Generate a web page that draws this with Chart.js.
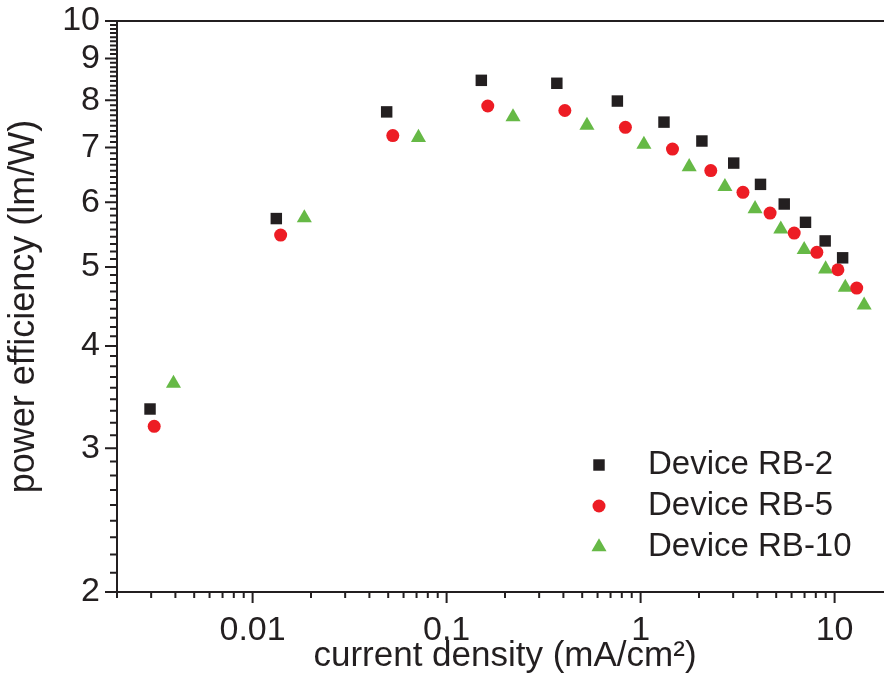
<!DOCTYPE html>
<html>
<head>
<meta charset="utf-8">
<script src="https://cdn.jsdelivr.net/npm/chart.js@4.4.1/dist/chart.umd.min.js"></script>
<style>
  html, body { margin: 0; padding: 0; background: #fff; overflow: hidden; }
  canvas { display: block; }
</style>
</head>
<body>
<canvas id="chart" width="893" height="689"></canvas>
<script>
const seriesNames = ['Device RB-2', 'Device RB-5', 'Device RB-10'];

const rb2X = [0.00296, 0.01325, 0.0491, 0.151, 0.370, 0.759, 1.32, 2.07, 3.02, 4.15, 5.50, 7.08, 8.94, 11.0];
const rb2Y = [3.35, 5.73, 7.74, 8.46, 8.39, 7.98, 7.52, 7.13, 6.70, 6.31, 5.97, 5.67, 5.38, 5.13];

const rb5X = [0.00311, 0.01395, 0.0528, 0.163, 0.407, 0.835, 1.46, 2.30, 3.37, 4.65, 6.19, 8.10, 10.4, 13.0];
const rb5Y = [3.19, 5.47, 7.24, 7.87, 7.77, 7.41, 6.97, 6.56, 6.17, 5.82, 5.50, 5.21, 4.96, 4.71];

const rb10X = [0.00391, 0.01848, 0.0716, 0.220, 0.529, 1.04, 1.78, 2.72, 3.89, 5.28, 6.97, 8.99, 11.35, 14.2];
const rb10Y = [3.60, 5.74, 7.20, 7.63, 7.45, 7.06, 6.63, 6.27, 5.89, 5.56, 5.25, 4.97, 4.72, 4.49];

const xTickValues = [0.01, 0.1, 1, 10];
const xTickLabels = ['0.01', '0.1', '1', '10'];
const yTickValues = [2, 3, 4, 5, 6, 7, 8, 9, 10];
const yTickLabels = ['2', '3', '4', '5', '6', '7', '8', '9', '10'];

const ink = '#231f20';
const FONT = "'Liberation Sans', Arial, Helvetica, sans-serif";

function points(xs, ys) {
  return xs.map((x, i) => ({ x: x, y: ys[i] }));
}

// tick marks (major + minor) and the top frame line
const axisTicks = {
  id: 'axisTicks',
  afterDraw(chart) {
    const { ctx, chartArea: a } = chart;
    const x = chart.scales.x, y = chart.scales.y;
    ctx.save();
    ctx.strokeStyle = ink;
    ctx.lineWidth = 2;
    ctx.beginPath();
    ctx.moveTo(a.left - 1, a.top);
    ctx.lineTo(a.right, a.top);

    yTickValues.forEach(v => {
      const p = y.getPixelForValue(v);
      ctx.moveTo(a.left - 12, p);
      ctx.lineTo(a.left, p);
    });
    for (let n = 2; n < 10; n++) {
      for (let k = 1; k < 9; k++) {
        const p = y.getPixelForValue(n + k / 9);
        ctx.moveTo(a.left - 7, p);
        ctx.lineTo(a.left, p);
      }
    }

    xTickValues.forEach(v => {
      const p = x.getPixelForValue(v);
      ctx.moveTo(p, a.bottom);
      ctx.lineTo(p, a.bottom + 11);
    });
    for (let d = 0.001; d < 100; d *= 10) {
      for (let m = 2; m < 10; m++) {
        const v = d * m;
        if (v < x.min * 0.999 || v > x.max) continue;
        const p = x.getPixelForValue(v);
        ctx.moveTo(p, a.bottom);
        ctx.lineTo(p, a.bottom + 6);
      }
    }
    ctx.stroke();
    ctx.restore();
  }
};

// legend in the lower right of the plot
const cornerLegend = {
  id: 'cornerLegend',
  afterDatasetsDraw(chart) {
    const { ctx, chartArea: a } = chart;
    ctx.save();
    ctx.font = '33px ' + FONT;
    ctx.textBaseline = 'middle';
    ctx.textAlign = 'left';
    chart.data.datasets.forEach((ds, i) => {
      const cy = a.bottom - 127 + i * 41;
      const cx = a.right - 294;
      ctx.fillStyle = ds.backgroundColor;
      Chart.helpers.drawPoint(ctx, {
        pointStyle: ds.pointStyle, radius: ds.pointRadius, rotation: 0, borderWidth: 0
      }, cx, cy);
      ctx.fillStyle = ink;
      ctx.fillText(ds.label, cx + 49, cy);
    });
    ctx.restore();
  }
};

new Chart(document.getElementById('chart'), {
  type: 'scatter',
  data: {
    datasets: [
      { label: seriesNames[0], data: points(rb2X, rb2Y), pointStyle: 'rect', pointRadius: 8.1,
        backgroundColor: ink, borderWidth: 0 },
      { label: seriesNames[1], data: points(rb5X, rb5Y), pointStyle: 'circle', pointRadius: 6.5,
        backgroundColor: '#ed1c24', borderWidth: 0 },
      { label: seriesNames[2], data: points(rb10X, rb10Y), pointStyle: 'triangle', pointRadius: 8.7,
        backgroundColor: '#66b946', borderWidth: 0 }
    ]
  },
  options: {
    responsive: false,
    animation: false,
    devicePixelRatio: 1,
    layout: { autoPadding: false, padding: { top: 21, right: 0, left: 0, bottom: 0 } },
    elements: { point: { hoverRadius: 8, borderWidth: 0 } },
    plugins: { legend: { display: false }, tooltip: { enabled: false } },
    scales: {
      x: {
        type: 'logarithmic',
        min: 0.002,
        max: 20,
        afterFit: s => { s.height = 97; },
        afterBuildTicks: s => { s.ticks = xTickValues.map(v => ({ value: v })); },
        grid: { display: false, drawTicks: false },
        border: { display: true, color: ink, width: 2 },
        ticks: {
          color: ink, font: { family: FONT, size: 34 }, padding: 18,
          maxRotation: 0, autoSkip: false,
          callback: v => xTickLabels[xTickValues.indexOf(v)]
        },
        title: {
          display: true, text: 'current density (mA/cm²)', color: ink,
          font: { family: FONT, size: 35 }, padding: { top: 0, bottom: 12 }
        }
      },
      y: {
        type: 'logarithmic',
        min: 2,
        max: 10,
        afterFit: s => { s.width = 117; },
        afterBuildTicks: s => { s.ticks = yTickValues.map(v => ({ value: v })); },
        // label gap comes from tickLength; the marks themselves are drawn by axisTicks
        grid: { display: false, drawTicks: true, tickLength: 17 },
        border: { display: true, color: ink, width: 2 },
        ticks: {
          color: ink, font: { family: FONT, size: 34 }, padding: 0,
          autoSkip: false,
          callback: v => yTickLabels[yTickValues.indexOf(v)]
        },
        title: {
          display: true, text: 'power efficiency (lm/W)', color: ink,
          font: { family: FONT, size: 36 }, padding: { top: 2, bottom: 0 }
        }
      }
    }
  },
  plugins: [axisTicks, cornerLegend]
});
</script>
</body>
</html>
